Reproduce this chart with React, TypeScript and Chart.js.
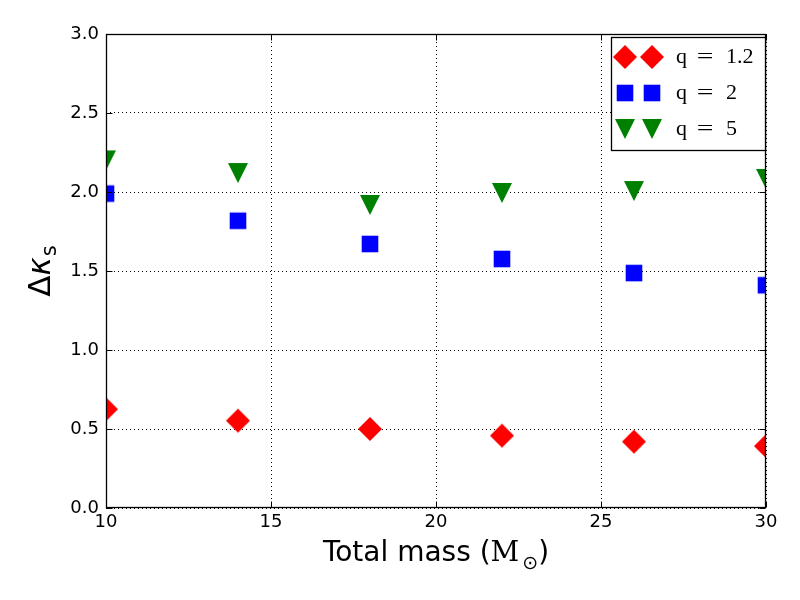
import React, { useEffect, useRef } from 'react';
import { Chart, registerables } from 'chart.js';

Chart.register(...registerables);

// ---- data ----
const masses = [10, 14, 18, 22, 26, 30];
const q12Values = [0.625, 0.553, 0.5, 0.458, 0.42, 0.392];
const q2Values = [1.99, 1.818, 1.671, 1.576, 1.487, 1.41];
const q5Values = [2.2, 2.12, 1.918, 1.994, 2.006, 2.083];
const seriesNames = ['1.2', '2', '5'];
const xTickValues = [10, 15, 20, 25, 30];
const yTickValues = [0, 0.5, 1.0, 1.5, 2.0, 2.5, 3.0];

type Kind = 'diamond' | 'square' | 'tri';
const kinds: Kind[] = ['diamond', 'square', 'tri'];
const colors = ['#ff0000', '#0000ff', '#008000'];

function pathMarker(ctx: CanvasRenderingContext2D, kind: Kind, cx: number, cy: number) {
  ctx.beginPath();
  if (kind === 'diamond') {
    const r = 12;
    ctx.moveTo(cx, cy - r);
    ctx.lineTo(cx + r, cy);
    ctx.lineTo(cx, cy + r);
    ctx.lineTo(cx - r, cy);
  } else if (kind === 'square') {
    const h = 8.3;
    ctx.rect(cx - h, cy - h, 2 * h, 2 * h);
  } else {
    const h = 10;
    ctx.moveTo(cx - h, cy - h);
    ctx.lineTo(cx + h, cy - h);
    ctx.lineTo(cx, cy + h);
  }
  ctx.closePath();
}

function drawMarker(ctx: CanvasRenderingContext2D, kind: Kind, color: string, cx: number, cy: number) {
  ctx.save();
  pathMarker(ctx, kind, cx, cy);
  ctx.fillStyle = color;
  ctx.fill();
  ctx.restore();
}

function markerCanvas(kind: Kind, color: string): HTMLCanvasElement {
  const c = document.createElement('canvas');
  c.width = 28;
  c.height = 28;
  const ctx = c.getContext('2d')!;
  drawMarker(ctx, kind, color, 14, 14);
  return c;
}

const overlay = {
  id: 'mplOverlay',
  afterDraw(chart: any) {
    const ctx: CanvasRenderingContext2D = chart.ctx;
    const { left, right, top, bottom } = chart.chartArea;
    const xs = chart.scales.x;
    const ys = chart.scales.y;
    const L = Math.round(left) + 0.5;
    const R = Math.round(right) - 0.5;
    const T = Math.round(top) + 0.5;
    const B = Math.round(bottom) - 0.5;
    ctx.save();
    // inward ticks
    ctx.strokeStyle = '#000';
    ctx.lineWidth = 1;
    ctx.beginPath();
    xTickValues.forEach((v) => {
      const px = Math.round(xs.getPixelForValue(v)) + 0.5;
      ctx.moveTo(px, B);
      ctx.lineTo(px, B - 6);
      ctx.moveTo(px, T);
      ctx.lineTo(px, T + 6);
    });
    yTickValues.forEach((v) => {
      const py = Math.round(ys.getPixelForValue(v)) + 0.5;
      ctx.moveTo(L, py);
      ctx.lineTo(L + 6, py);
      ctx.moveTo(R, py);
      ctx.lineTo(R - 6, py);
    });
    ctx.stroke();
    // frame
    ctx.lineWidth = 1.3;
    ctx.strokeRect(L, T, R - L, B - T);

    // legend
    const bx = 611.5, by = 37.5, bw = 154, bh = 113;
    ctx.fillStyle = '#fff';
    ctx.fillRect(bx, by, bw, bh);
    ctx.lineWidth = 1.3;
    ctx.strokeStyle = '#000';
    ctx.strokeRect(bx, by, bw, bh);
    const rows = [57, 93, 129];
    ctx.font = '22px "Liberation Serif"';
    ctx.textBaseline = 'middle';
    ctx.fillStyle = '#000';
    rows.forEach((ry, i) => {
      drawMarker(ctx, kinds[i], colors[i], 625, ry);
      drawMarker(ctx, kinds[i], colors[i], 652, ry);
      ctx.fillStyle = '#000';
      ctx.textAlign = 'left';
      ctx.fillText('q', 676, ry);
      ctx.save();
      ctx.translate(705, ry);
      ctx.scale(1.35, 1);
      ctx.textAlign = 'center';
      ctx.fillText('=', 0, 0);
      ctx.restore();
      ctx.textAlign = 'left';
      ctx.fillText(seriesNames[i], 726, ry);
    });

    // x title: Total mass (M_⊙)
    const xc = (left + right) / 2;
    const baseX = 561;
    const f1 = '28px "DejaVu Sans"';
    const fM = '28px "DejaVu Serif"';
    const fSub = '19px "DejaVu Sans"';
    ctx.textAlign = 'left';
    ctx.textBaseline = 'alphabetic';
    ctx.font = f1;
    const w1 = ctx.measureText('Total mass (').width;
    const wp = ctx.measureText(')').width;
    ctx.font = fM;
    const wM = ctx.measureText('M').width;
    ctx.font = fSub;
    const wS = ctx.measureText('⊙').width;
    const total = w1 + wM + 3 + wS + wp;
    let cx = xc - total / 2;
    ctx.font = f1;
    ctx.fillText('Total mass (', cx, baseX);
    cx += w1;
    ctx.font = fM;
    ctx.fillText('M', cx, baseX);
    cx += wM + 3;
    ctx.font = fSub;
    ctx.fillText('⊙', cx, baseX + 8);
    cx += wS;
    ctx.font = f1;
    ctx.fillText(')', cx, baseX);

    // y title: Δκ_s
    const yc = (top + bottom) / 2;
    ctx.translate(50, yc);
    ctx.rotate(-Math.PI / 2);
    const fD = '31px "DejaVu Sans"';
    const fK = 'oblique 31px "DejaVu Sans"';
    const fs = '21px "DejaVu Sans"';
    ctx.font = fD;
    const wD = ctx.measureText('Δ').width;
    ctx.font = fK;
    const wK = ctx.measureText('κ').width;
    ctx.font = fs;
    const ws = ctx.measureText('s').width;
    let tx = -(wD + wK + ws + 1) / 2;
    ctx.font = fD;
    ctx.fillText('Δ', tx, 0);
    tx += wD;
    ctx.font = fK;
    ctx.fillText('κ', tx, 0);
    tx += wK + 1;
    ctx.font = fs;
    ctx.fillText('s', tx, 6);
    ctx.restore();
  },
};

export default function App() {
  const ref = useRef<HTMLCanvasElement>(null);
  useEffect(() => {
    const series = [q12Values, q2Values, q5Values];
    const chart = new Chart(ref.current!, {
      type: 'scatter',
      data: {
        datasets: series.map((vals, i) => ({
          label: 'q = ' + seriesNames[i],
          data: masses.map((m, j) => ({ x: m, y: vals[j] })),
          pointStyle: markerCanvas(kinds[i], colors[i]) as any,
          pointRadius: 10,
          backgroundColor: colors[i],
          borderColor: colors[i],
          clip: 0,
        })),
      },
      options: {
        responsive: false,
        animation: false,
        events: [],
        layout: { padding: { top: 34, right: 34, left: 0, bottom: 0 } },
        plugins: { legend: { display: false }, tooltip: { enabled: false } },
        scales: {
          x: {
            type: 'linear',
            min: 10,
            max: 30,
            afterFit: (s: any) => { s.height = 92; },
            ticks: {
              stepSize: 5,
              color: '#000',
              padding: 4,
              font: { family: '"DejaVu Sans"', size: 18 },
            },
            grid: { color: '#000', lineWidth: 1, drawTicks: false },
            border: { display: false, dash: [1, 3] },
          },
          y: {
            type: 'linear',
            min: 0,
            max: 3,
            afterFit: (s: any) => { s.width = 106; },
            ticks: {
              stepSize: 0.5,
              color: '#000',
              padding: 7,
              font: { family: '"DejaVu Sans"', size: 18 },
              callback: (v: any) => Number(v).toFixed(1),
            },
            grid: { color: '#000', lineWidth: 1, drawTicks: false },
            border: { display: false, dash: [1, 3] },
          },
        },
      },
      plugins: [overlay],
    });
    return () => chart.destroy();
  }, []);
  return (
    <div style={{ position: 'absolute', left: 0, top: 0, width: 800, height: 600 }}>
      <canvas ref={ref} width={800} height={600} />
    </div>
  );
}
